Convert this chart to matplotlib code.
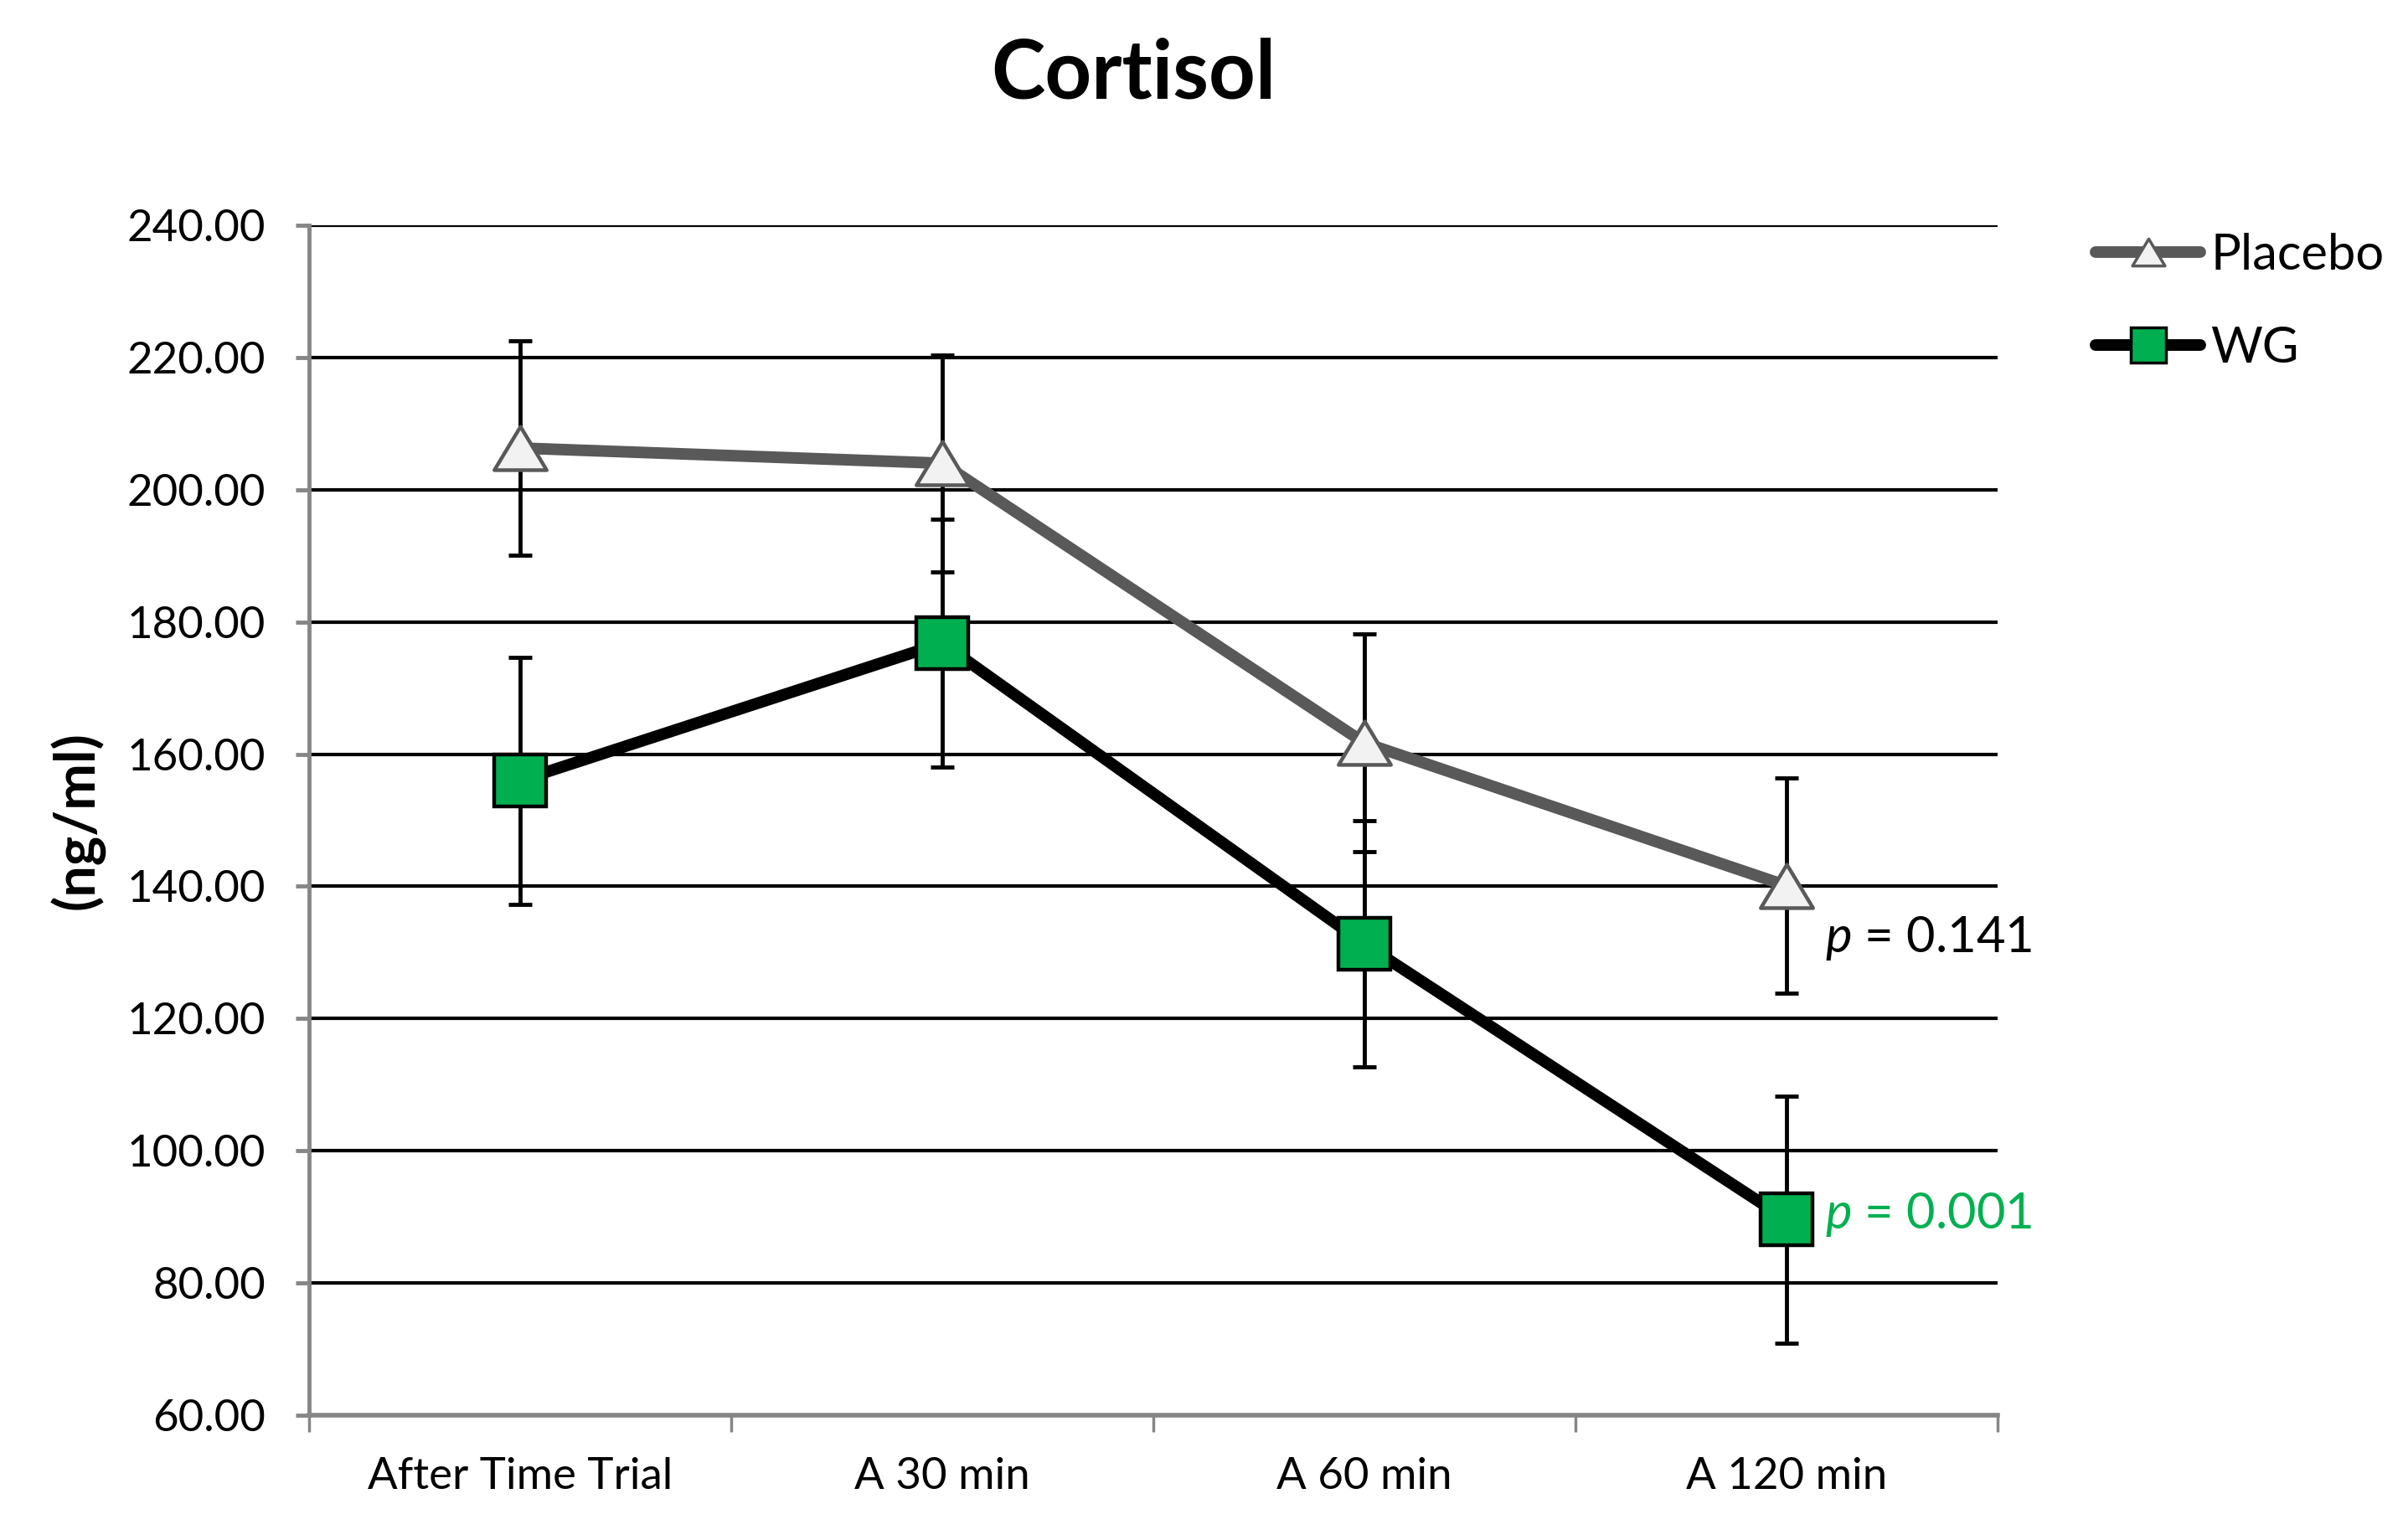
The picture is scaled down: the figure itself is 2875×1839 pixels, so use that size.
import matplotlib
matplotlib.use("Agg")
import matplotlib.pyplot as plt
from matplotlib.lines import Line2D
from matplotlib.path import Path
import numpy as np

plt.rcParams['font.family'] = ['Lato', 'DejaVu Sans']
plt.rcParams['mathtext.fontset'] = 'custom'
plt.rcParams['mathtext.it'] = 'Lato:italic'
plt.rcParams['mathtext.rm'] = 'Lato'

# ---- data ----
categories = ["After Time Trial", "A 30 min", "A 60 min", "A 120 min"]
placebo = [206.3, 204.0, 161.7, 140.1]
placebo_err = [16.2, 16.4, 16.5, 16.3]
wg = [156.0, 176.8, 131.3, 89.6]
wg_err = [18.7, 18.8, 18.6, 18.7]
yticks = [60, 80, 100, 120, 140, 160, 180, 200, 220, 240]
p_labels = ["$p$ = 0.141", "$p$ = 0.001"]

GRAY_LINE = "#595959"
TRI_FILL = "#F2F2F2"
GREEN = "#00B050"
AXIS_GRAY = "#868686"

W, H = 2875, 1839
fig = plt.figure(figsize=(W / 100, H / 100), dpi=100)
ax = fig.add_axes([369 / W, 1 - 1690 / H, 2016 / W, (1690 - 269) / H])

x = np.arange(len(categories))

# wide triangle marker (Excel style)
tri = Path([(-1, -0.83), (1, -0.83), (0, 0.83), (-1, -0.83)],
           [Path.MOVETO, Path.LINETO, Path.LINETO, Path.CLOSEPOLY])

ax.set_ylim(60, 240)
ax.set_xlim(-0.5, len(categories) - 0.5)
ax.set_yticks(yticks)
ax.set_yticklabels([f"{v:.2f}" for v in yticks])
ax.yaxis.grid(True, color="black", linewidth=3, zorder=0)
ax.set_axisbelow(True)

# error bars
ax.errorbar(x, placebo, yerr=placebo_err, fmt="none", ecolor="black",
            elinewidth=3.5, capsize=10, capthick=3.5, zorder=3)
ax.errorbar(x, wg, yerr=wg_err, fmt="none", ecolor="black",
            elinewidth=3.5, capsize=10, capthick=3.5, zorder=3)

# series
ax.plot(x, placebo, color=GRAY_LINE, linewidth=10, zorder=4,
        marker=tri, markersize=45, markerfacecolor=TRI_FILL,
        markeredgecolor=GRAY_LINE, markeredgewidth=3.2, solid_capstyle="butt")
ax.plot(x, wg, color="black", linewidth=10, zorder=5,
        marker="s", markersize=44, markerfacecolor=GREEN,
        markeredgecolor="black", markeredgewidth=3.2, solid_capstyle="butt")

# p-value annotations
ax.annotate(p_labels[0], xy=(x[3], placebo[3]), xytext=(46, -63),
            textcoords="offset pixels", fontsize=43, color="black",
            ha="left", va="center")
ax.annotate(p_labels[1], xy=(x[3], wg[3]), xytext=(46, 6),
            textcoords="offset pixels", fontsize=43, color=GREEN,
            ha="left", va="center")

# spines & ticks
for s in ["top", "right"]:
    ax.spines[s].set_visible(False)
ax.spines["left"].set_color(AXIS_GRAY)
ax.spines["left"].set_linewidth(3.5)
ax.spines["bottom"].set_color(AXIS_GRAY)
ax.spines["bottom"].set_linewidth(4)
ax.spines["left"].set_zorder(6)
ax.spines["bottom"].set_zorder(6)

ax.tick_params(axis="y", which="major", direction="out", length=11.5,
               width=3.5, color=AXIS_GRAY, labelsize=38, pad=26)
ax.set_xticks(np.arange(-0.5, len(categories)), minor=False)
ax.set_xticklabels([])
ax.tick_params(axis="x", which="major", direction="out", length=14.5,
               width=2.5, color=AXIS_GRAY)
ax.set_xticks(x, minor=True)
ax.set_xticklabels(categories, minor=True)
ax.tick_params(axis="x", which="minor", length=0, labelsize=38, pad=36)

# title & y label
fig.text(1353 / W, 1 - 118 / H, "Cortisol", fontsize=70, fontweight="bold",
         ha="center", va="baseline")
fig.text(93 / W, 1 - 980 / H, "(ng/ml)", fontsize=48, fontweight="bold",
         ha="center", va="center", rotation=90)

# legend
handles = [
    Line2D([], [], color=GRAY_LINE, linewidth=10, marker=tri, markersize=28,
           markerfacecolor=TRI_FILL, markeredgecolor=GRAY_LINE,
           markeredgewidth=2.5, solid_capstyle="round"),
    Line2D([], [], color="black", linewidth=10, marker="s", markersize=30,
           markerfacecolor=GREEN, markeredgecolor="black",
           markeredgewidth=2.5, solid_capstyle="round"),
]
fig.legend(handles, ["Placebo", "WG"], loc="upper left",
           bbox_to_anchor=(2502 / W, 1 - 278 / H), frameon=False,
           fontsize=43, handlelength=2.1, handletextpad=0.2,
           labelspacing=0.95, borderaxespad=0, borderpad=0)

fig.savefig("out.png", dpi=100, facecolor="white")
